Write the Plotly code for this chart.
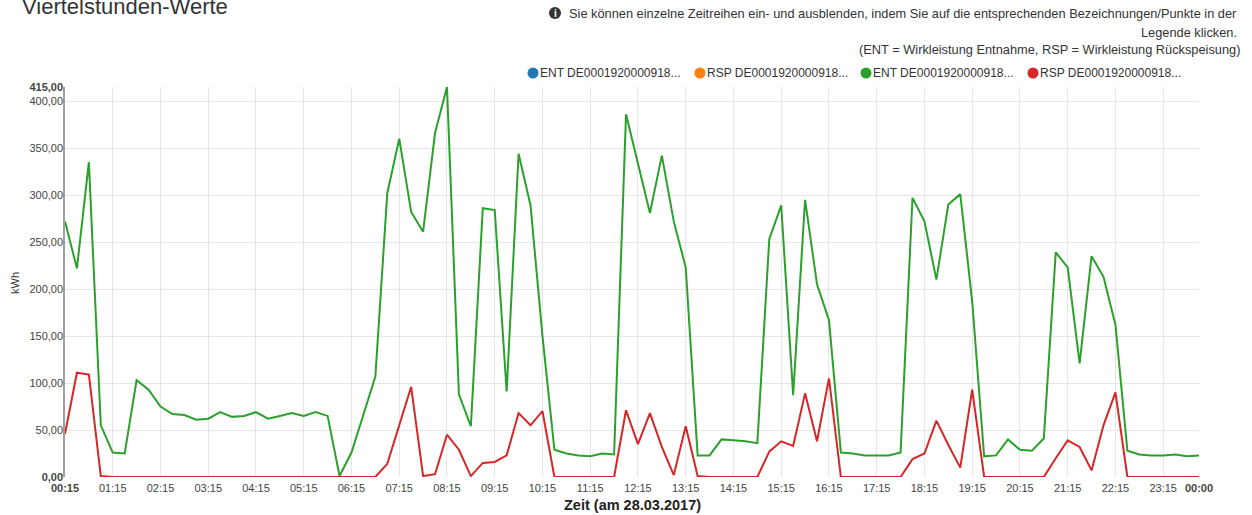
import pandas as pd
import plotly.graph_objects as go

# ---------------- data ----------------
times = pd.date_range("2017-03-28 00:15", periods=96, freq="15min")

ent_green = [272, 222, 335, 55, 26, 25, 103, 93, 75, 67, 66, 61, 62, 69, 64, 65,
             69, 62, 65, 68, 65, 69, 65, 1, 26, 67, 107, 302, 360, 282, 261, 366,
             415, 88, 54, 286, 284, 91, 344, 289, 150, 29, 25, 23, 22, 25, 24, 386,
             334, 281, 342, 272, 223, 23, 23, 40, 39, 38, 36, 253, 289, 87, 295, 205,
             167, 26, 25, 23, 23, 23, 26, 297, 272, 210, 290, 301, 187, 22, 23, 40,
             29, 28, 41, 239, 223, 121, 235, 213, 162, 28, 24, 23, 23, 24, 22, 23]

rsp_red = [46, 111, 109, 1, 0, 0, 0, 0, 0, 0, 0, 0, 0, 0, 0, 0,
           0, 0, 0, 0, 0, 0, 0, 0, 0, 0, 0, 14, 55, 96, 1, 3,
           45, 29, 1, 15, 16, 23, 68, 55, 70, 0, 0, 0, 0, 0, 0, 71,
           35, 68, 32, 2, 54, 1, 0, 0, 0, 0, 0, 27, 38, 33, 89, 38,
           105, 0, 0, 0, 0, 0, 0, 19, 25, 60, 34, 10, 93, 0, 0, 0,
           0, 0, 0, 20, 39, 32, 7, 55, 90, 0, 0, 0, 0, 0, 0, 0]

series_names = ["ENT DE0001920000918...", "RSP DE0001920000918...",
                "ENT DE0001920000918...", "RSP DE0001920000918..."]
series_colors = ["#1f77b4", "#ff7f0e", "#2ca02c", "#d62728"]

x_tick_labels = ["00:15", "01:15", "02:15", "03:15", "04:15", "05:15", "06:15", "07:15",
                 "08:15", "09:15", "10:15", "11:15", "12:15", "13:15", "14:15", "15:15",
                 "16:15", "17:15", "18:15", "19:15", "20:15", "21:15", "22:15", "23:15", "00:00"]
y_tick_values = [0, 50, 100, 150, 200, 250, 300, 350, 400, 415]
y_tick_labels = ["0,00", "50,00", "100,00", "150,00", "200,00", "250,00",
                 "300,00", "350,00", "400,00", "415,00"]

# ---------------- layout helpers ----------------
W, H = 1252, 515
L, R, T, B = 65, 1199, 87, 477
FONT = "Liberation Sans, Arial, sans-serif"


def px(xp):
    return (xp - L) / (R - L)


def py(yp):
    return (B - yp) / (B - T)


fig = go.Figure()

# data traces (blue & orange series have no values in this period)
fig.add_trace(go.Scatter(x=times, y=ent_green, mode="lines", name=series_names[2],
                         line=dict(color=series_colors[2], width=2), showlegend=False))
fig.add_trace(go.Scatter(x=times, y=rsp_red, mode="lines", name=series_names[3],
                         line=dict(color=series_colors[3], width=2), showlegend=False))

tickvals = list(times[::4]) + [times[-1]]
ticktext = list(x_tick_labels)
ticktext[0] = "<b>" + ticktext[0] + "</b>"
ticktext[-1] = "<b>" + ticktext[-1] + "</b>"

yticktext = list(y_tick_labels)
yticktext[0] = "<b>" + yticktext[0] + "</b>"
yticktext[-1] = "<b>" + yticktext[-1] + "</b>"

annotations = []
shapes = []

# title (partially cut at the top)
annotations.append(dict(text="Viertelstunden-Werte", x=px(20), y=py(6), xref="paper", yref="paper",
                        xanchor="left", yanchor="middle", showarrow=False,
                        font=dict(family=FONT, size=22, color="#333333")))

# info text
info_lines = ["Sie können einzelne Zeitreihen ein- und ausblenden, indem Sie auf die entsprechenden Bezeichnungen/Punkte in der",
              "Legende klicken.",
              "(ENT = Wirkleistung Entnahme, RSP = Wirkleistung Rückspeisung)"]
info_y = [13, 32, 50]
info_right = [1239, 1239, 1242]
for txt, yy, xr in zip(info_lines, info_y, info_right):
    annotations.append(dict(text=txt, x=px(xr), y=py(yy), xref="paper", yref="paper",
                            xanchor="right", yanchor="middle", showarrow=False,
                            font=dict(family=FONT, size=12.8, color="#333333")))
# info icon
shapes.append(dict(type="circle", xref="paper", yref="paper", xsizemode="pixel", ysizemode="pixel",
                   xanchor=px(555), yanchor=py(13), x0=-6, x1=6, y0=-6, y1=6,
                   fillcolor="#333333", line=dict(width=0)))
annotations.append(dict(text="<b>i</b>", x=px(555), y=py(13), xref="paper", yref="paper",
                        xanchor="center", yanchor="middle", showarrow=False,
                        font=dict(family=FONT, size=10, color="white")))

# legend
legend_x = [533, 700, 866, 1033]
for name, col, lx in zip(series_names, series_colors, legend_x):
    shapes.append(dict(type="circle", xref="paper", yref="paper", xsizemode="pixel", ysizemode="pixel",
                       xanchor=px(lx), yanchor=py(73), x0=-5.5, x1=5.5, y0=-5.5, y1=5.5,
                       fillcolor=col, line=dict(width=0)))
    annotations.append(dict(text=name, x=px(lx + 5), y=py(73), xref="paper", yref="paper",
                            xanchor="left", yanchor="middle", showarrow=False,
                            font=dict(family=FONT, size=12, color="#333333")))

# axis titles
annotations.append(dict(text="kWh", x=px(15), y=py(283), xref="paper", yref="paper",
                        xanchor="center", yanchor="middle", showarrow=False, textangle=-90,
                        font=dict(family=FONT, size=11, color="#333333")))
annotations.append(dict(text="<b>Zeit (am 28.03.2017)</b>", x=0.5, y=py(505), xref="paper", yref="paper",
                        xanchor="center", yanchor="middle", showarrow=False,
                        font=dict(family=FONT, size=14.5, color="#222222")))

fig.update_layout(
    width=W, height=H,
    margin=dict(l=L, r=W - R, t=T, b=H - B, pad=0),
    paper_bgcolor="white", plot_bgcolor="white",
    showlegend=False,
    font=dict(family=FONT, size=11, color="#444444"),
    annotations=annotations,
    shapes=shapes,
    xaxis=dict(range=[times[0], times[-1]], tickvals=tickvals, ticktext=ticktext,
               showgrid=True, gridcolor="#e6e6e6", gridwidth=1, zeroline=False,
               showline=False, ticks="", ticklabelstandoff=3,
               tickfont=dict(family=FONT, size=11, color="#444444")),
    yaxis=dict(range=[0, 415], tickvals=y_tick_values, ticktext=yticktext,
               showgrid=True, gridcolor="#e6e6e6", gridwidth=1, zeroline=False,
               showline=True, linecolor="#a0a0a0", linewidth=1.5, ticks="",
               ticklabelstandoff=-2,
               tickfont=dict(family=FONT, size=11, color="#444444")),
)

fig.write_html("out.html", config={"displayModeBar": False},
               post_script="document.body.style.margin='0';document.body.style.overflow='hidden';")
